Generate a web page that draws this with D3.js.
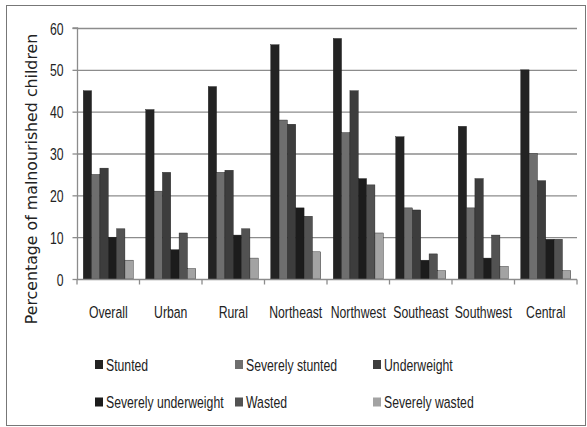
<!DOCTYPE html>
<html><head><meta charset="utf-8">
<script src="https://cdn.jsdelivr.net/npm/d3@7"></script>
<style>body{margin:0;background:#fff}svg{display:block}</style>
</head><body>
<svg id="c" width="587" height="427"></svg>
<script>
const categories = ["Overall","Urban","Rural","Northeast","Northwest","Southeast","Southwest","Central"];
const seriesNames = ["Stunted","Severely stunted","Underweight","Severely underweight","Wasted","Severely wasted"];
const stunted = [45,40.5,46,56,57.5,34,36.5,50];
const severelyStunted = [25,21,25.5,38,35,17,17,30];
const underweight = [26.5,25.5,26,37,45,16.5,24,23.5];
const severelyUnderweight = [10,7,10.5,17,24,4.5,5,9.5];
const wasted = [12,11,12,15,22.5,6,10.5,9.5];
const severelyWasted = [4.5,2.5,5,6.5,11,2,3,2];
const yTicks = [0,10,20,30,40,50,60];
const colors = ["#232323","#6e6e6e","#3d3d3d","#1c1c1c","#525252","#a3a3a3"];

const seriesValues = [stunted,severelyStunted,underweight,severelyUnderweight,wasted,severelyWasted];
const svg = d3.select("#c");
const font = "'Liberation Sans',Arial,sans-serif";
const SX = 0.72;

svg.append("rect").attr("x",6.5).attr("y",5.5).attr("width",579).attr("height",420)
  .attr("fill","none").attr("stroke","#777").attr("stroke-width",1);

const L=77,R=577,T=28,B=279;
const x = d3.scaleBand().domain(categories).range([L,R]);
const y = d3.scaleLinear().domain([0,60]).range([B,T]);

// gridlines
svg.append("g").selectAll("line").data(yTicks.filter(d=>d>0)).join("line")
  .attr("x1",L).attr("x2",R).attr("y1",d=>y(d)+0.5).attr("y2",d=>y(d)+0.5)
  .attr("stroke","#8c8c8c").attr("stroke-width",1.3);

// bars
const bw = x.bandwidth()/7.5;
const g = svg.append("g");
categories.forEach((c,ci)=>{
  seriesValues.forEach((vals,si)=>{
    g.append("rect")
      .attr("x", x(c) + bw*0.75 + si*bw)
      .attr("y", y(vals[ci]))
      .attr("width", bw)
      .attr("height", y(0)-y(vals[ci]))
      .attr("fill", colors[si])
      .attr("stroke","#1a1a1a").attr("stroke-width",0.4);
  });
});

// y axis
const ya = svg.append("g").attr("transform",`translate(${L+0.5},0)`)
  .call(d3.axisLeft(y).tickValues(yTicks).tickSize(5));
ya.select(".domain").attr("stroke","#8c8c8c").attr("stroke-width",1.3).attr("d",`M-5,${T}H0V${B}`);
ya.selectAll(".tick line").attr("stroke","#8c8c8c").attr("stroke-width",1.3);
ya.selectAll(".tick text").attr("font-family",font).attr("font-size",17).attr("fill","#222")
  .attr("x",-14/SX).attr("dy","0.36em").attr("transform",`scale(${SX},1)`);

// x axis
const xa = svg.append("g").attr("transform",`translate(0,${B+0.5})`)
  .call(d3.axisBottom(x).tickSize(0));
xa.select(".domain").attr("stroke","#8c8c8c").attr("stroke-width",1.3).attr("d",`M${L},0H${R}`);
xa.selectAll(".tick text").attr("font-family",font).attr("font-size",17).attr("fill","#222")
  .attr("y",32).attr("dy","0.36em").attr("transform",`scale(${SX},1)`);
xa.append("g").selectAll("line").data(d3.range(categories.length+1)).join("line")
  .attr("x1",i=>L+i*x.step()).attr("x2",i=>L+i*x.step()).attr("y1",0).attr("y2",5)
  .attr("stroke","#8c8c8c").attr("stroke-width",1.3);

// y title
svg.append("text").attr("transform","translate(37,179) rotate(-90)")
  .attr("text-anchor","middle").attr("font-family","'DejaVu Sans',sans-serif")
  .attr("font-size",15.8).attr("fill","#222").text("Percentage of malnourished children");

// legend
const legX = [95,235,373], legY=[364.5,402];
const lg = svg.append("g");
seriesNames.forEach((n,i)=>{
  const col=i%3,row=Math.floor(i/3);
  lg.append("rect").attr("x",legX[col]).attr("y",legY[row]-4.5).attr("width",8).attr("height",9).attr("fill",colors[i]);
  lg.append("g").attr("transform",`translate(${legX[col]+11},${legY[row]})`)
    .append("text").attr("transform",`scale(${SX},1)`).attr("dy","0.36em")
    .attr("font-family",font).attr("font-size",17).attr("fill","#222").text(n);
});
</script>
</body></html>
